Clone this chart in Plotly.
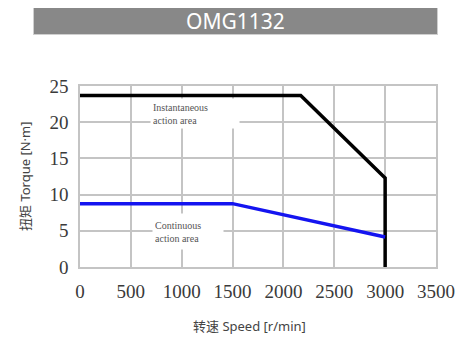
import plotly.graph_objects as go

# Data
peak_speed = [0, 2170, 3000, 3000]
peak_torque = [23.7, 23.7, 12.3, 0]
cont_speed = [0, 1500, 3000]
cont_torque = [8.75, 8.75, 4.15]
x_ticks = [0, 500, 1000, 1500, 2000, 2500, 3000, 3500]
y_ticks = [0, 5, 10, 15, 20, 25]

OFF = 8  # page body margin
W, H = 473 - OFF, 338 - OFF
# plot area in screen pixels: x 80..436, y 86..267
L, R, T, B = 80 - OFF, 473 - 436, 86 - OFF, 338 - 267

def px(p):  # screen x -> paper
    return (p - OFF - L) / (W - L - R)

def py(p):  # screen y -> paper
    return (H - B - (p - OFF)) / (H - B - T)

fig = go.Figure()
fig.add_trace(go.Scatter(x=peak_speed, y=peak_torque, mode="lines",
                         line=dict(color="#000000", width=3.5), cliponaxis=False,
                         hoverinfo="skip"))
fig.add_trace(go.Scatter(x=cont_speed, y=cont_torque, mode="lines",
                         line=dict(color="#1414f0", width=3.5), hoverinfo="skip"))

grid = "#c4c4c4"
serif = "Liberation Serif"
tickfont = dict(family=serif, size=19, color="#3a3a3a")
fig.update_layout(font=dict(family=serif),
                  xaxis=dict(range=[0, 3500], tickvals=x_ticks,
                             ticktext=[str(v) for v in x_ticks], showgrid=True, gridcolor=grid,
                             gridwidth=1.5, zeroline=False, showline=True, linecolor=grid,
                             linewidth=1.5, mirror=True, tickfont=tickfont, ticks="",
                             ticklabelstandoff=6),
                  yaxis=dict(range=[0, 25], tickvals=y_ticks,
                             ticktext=[str(v) for v in y_ticks], showgrid=True, gridcolor=grid,
                             gridwidth=1.5, zeroline=False, showline=True, linecolor=grid,
                             linewidth=1.5, mirror=True, tickfont=tickfont, ticks="",
                             ticklabelstandoff=6))

annfont = dict(family=serif, size=10, color="#555555")
fig.add_annotation(xref="paper", yref="paper", x=px(150), y=py(98), xanchor="left",
                   yanchor="top", text="Instantaneous<br>action area", showarrow=False,
                   align="left", bgcolor="white", width=84, height=25, borderpad=2,
                   font=annfont)
fig.add_annotation(xref="paper", yref="paper", x=px(152), y=py(213), xanchor="left",
                   yanchor="top", text="Continuous<br>action area", showarrow=False,
                   align="left", bgcolor="white", width=66, height=31, borderpad=2,
                   font=annfont)

# Banner title
fig.add_annotation(xref="paper", yref="paper", x=px(235.5), y=py(21), xanchor="center",
                   yanchor="middle", text="OMG1132", showarrow=False,
                   bgcolor="#888888", bordercolor="#cfcfcf", borderwidth=1,
                   width=403, height=26, borderpad=0,
                   font=dict(family="Noto Sans", size=21, color="white"))

titlefont = dict(family="Noto Sans, Noto Sans CJK SC, sans-serif", size=13, color="#444444")
fig.add_annotation(xref="paper", yref="paper", x=px(249), y=py(326), xanchor="center",
                   yanchor="middle", text="转速 Speed [r/min]", showarrow=False,
                   font=titlefont)
fig.add_annotation(xref="paper", yref="paper", x=px(25), y=py(176), xanchor="center",
                   yanchor="middle", text="扭矩 Torque [N·m]", showarrow=False,
                   textangle=-90, font=titlefont)

fig.update_layout(width=W, height=H, margin=dict(l=L, r=R, t=T, b=B),
                  paper_bgcolor="white", plot_bgcolor="white", showlegend=False)

fig.write_html("out.html")
